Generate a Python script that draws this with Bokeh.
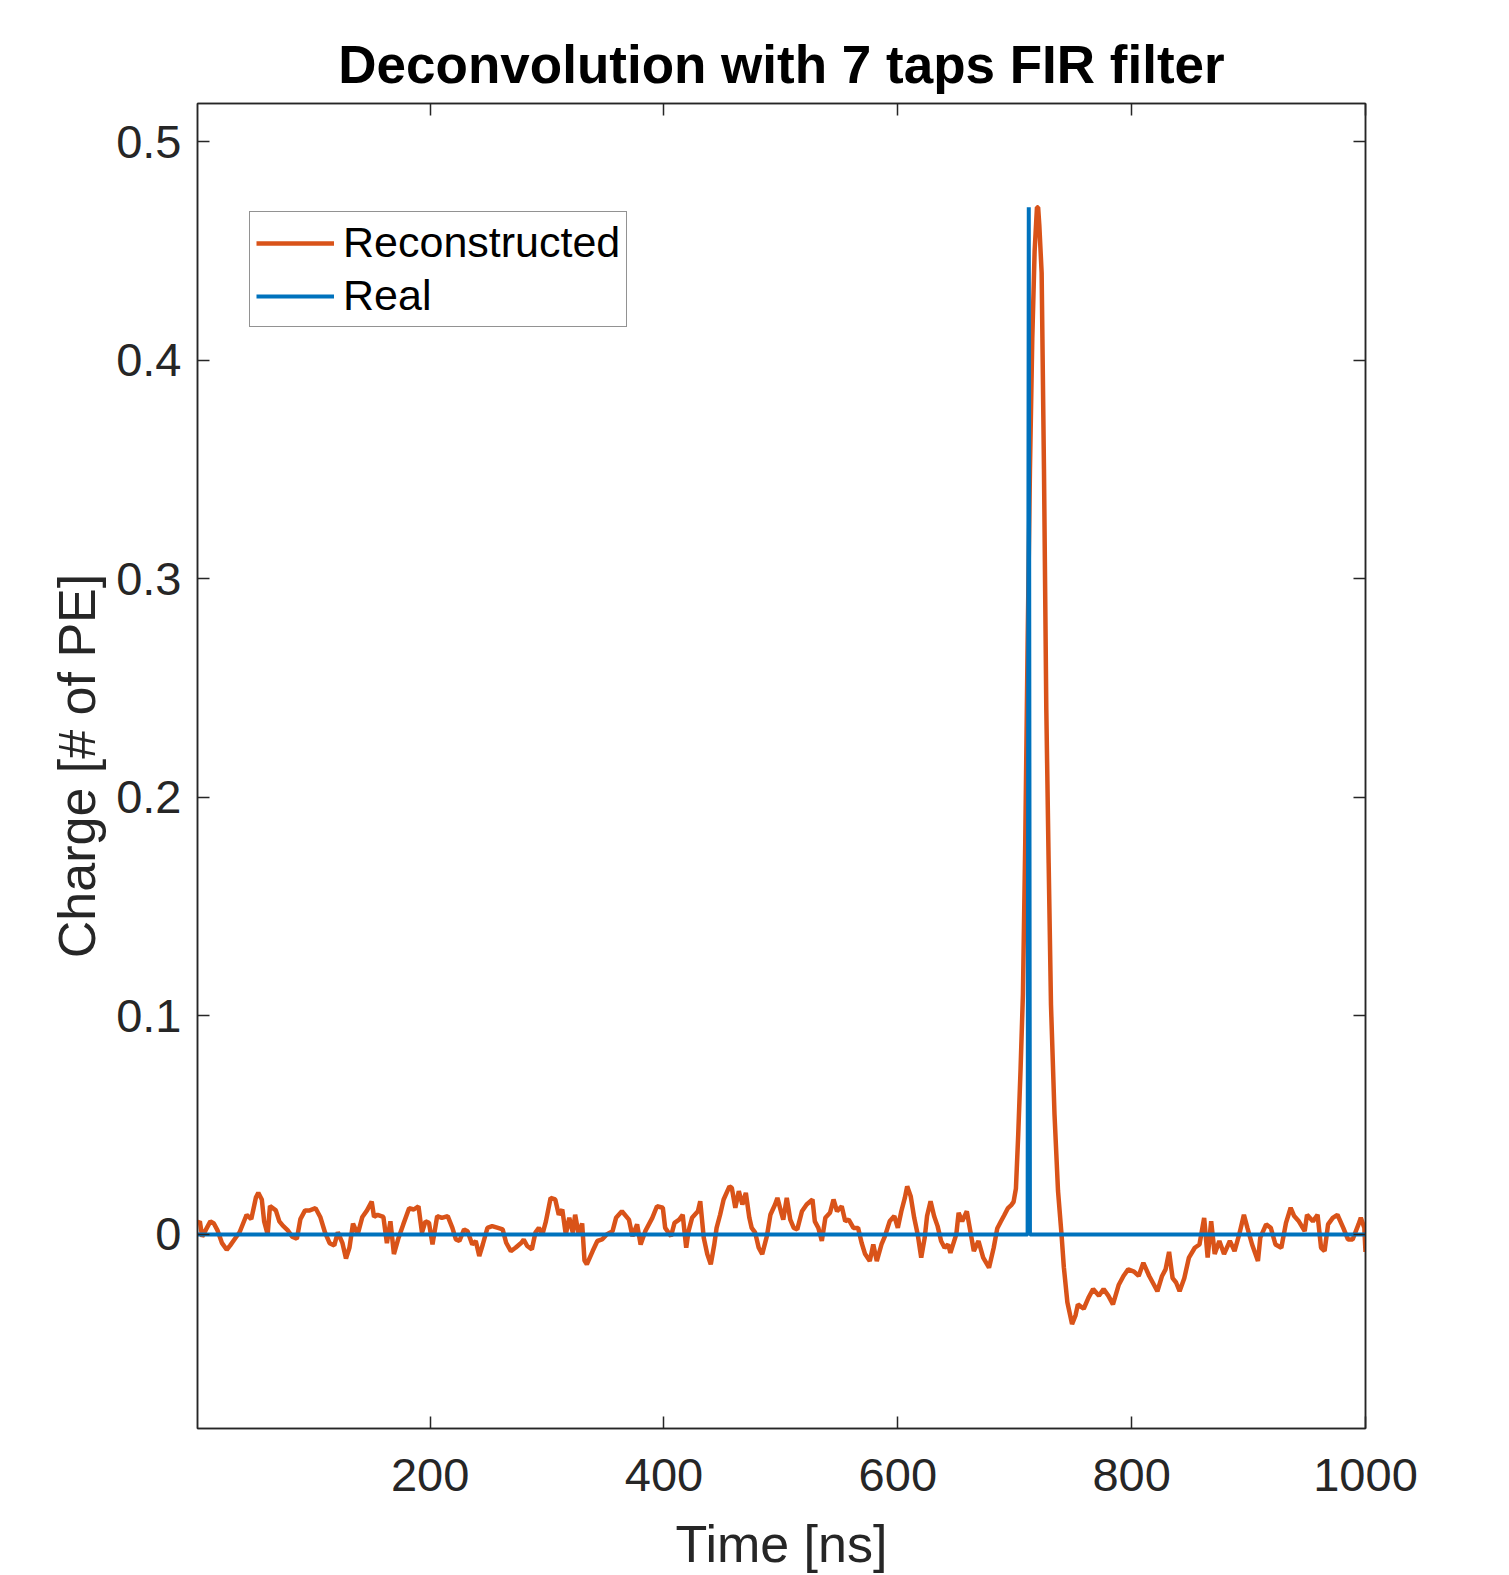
from bokeh.plotting import figure
from bokeh.models import Range1d, FixedTicker, LinearAxis, Legend, LegendItem, Title
from bokeh.embed import file_html
from bokeh.resources import INLINE

# ---- data ----
recon_t = [1, 3, 5, 8, 12, 15, 18, 22, 26, 29, 33, 37, 40, 43, 47, 51, 53, 56, 58, 61, 63, 68, 71, 74, 78,
           82, 86, 89, 93, 97, 102, 106, 110, 114, 118, 121, 125, 128, 131, 134, 138, 142, 146, 150, 152,
           155, 160, 163, 166, 169, 173, 177, 182, 186, 190, 193, 196, 199, 202, 206, 210, 215, 219, 222,
           225, 229, 232, 236, 239, 242, 245, 249, 253, 258, 262, 265, 269, 273, 278, 280, 283, 287, 290,
           293, 296, 299, 303, 307, 310, 313, 316, 319, 322, 324, 327, 330, 332, 334, 339, 343, 347, 351,
           356, 359, 364, 370, 373, 377, 380, 384, 390, 394, 399, 401, 406, 409, 413, 416, 419, 421, 424,
           429, 431, 434, 437, 440, 443, 445, 448, 451, 456, 458, 461, 464, 467, 470, 473, 475, 478, 481,
           484, 488, 491, 495, 497, 500, 502, 505, 508, 511, 514, 518, 522, 527, 529, 532, 535, 538, 542,
           545, 548, 552, 555, 558, 562, 566, 569, 572, 576, 579, 582, 586, 589, 593, 597, 600, 603, 606,
           608, 611, 614, 617, 620, 623, 625, 628, 631, 634, 637, 640, 643, 645, 650, 652, 655, 659, 662,
           665, 669, 673, 678, 682, 685, 688, 691, 694, 697, 699, 701, 703, 705, 707, 709, 711, 713, 715,
           717, 719, 720, 721, 723, 725, 727, 729, 731, 734, 737, 740, 742, 745, 749, 752, 754, 759, 763,
           767, 772, 776, 780, 784, 789, 793, 797, 802, 806, 810, 815, 818, 822, 826, 829, 832, 835, 838,
           841, 845, 849, 854, 858, 862, 865, 868, 871, 875, 879, 884, 888, 892, 896, 899, 903, 908, 910,
           915, 919, 923, 928, 932, 936, 939, 943, 948, 950, 955, 959, 962, 965, 968, 972, 976, 981, 985,
           989, 994, 996, 999, 1000]
recon_v = [0.005, 0.006, -0.001, 0.002, 0.006, 0.005, 0.002, -0.004, -0.007, -0.005, -0.002, 0.001, 0.005,
           0.009, 0.007, 0.017, 0.019, 0.016, 0.006, 0.000, 0.013, 0.011, 0.006, 0.004, 0.002,
           -0.001, -0.002, 0.007, 0.011, 0.011, 0.012, 0.008, 0.001, -0.004, -0.005, 0.001, -0.004, -0.011,
           -0.006, 0.005, 0.000, 0.008, 0.011, 0.015, 0.008,
           0.009, 0.008, -0.004, 0.006, -0.009, -0.0015, 0.0046, 0.012, 0.0114, 0.0129, 0.0008, 0.006, 0.0053,
           -0.0046, 0.0084, 0.0076, 0.0084, 0.003, -0.0023,
           -0.003, 0.0023, 0.0015, -0.0046, -0.003, -0.0099, -0.0046, 0.003, 0.0038, 0.003, 0.0023, -0.0038,
           -0.0076, -0.0061, -0.0038, -0.0023, -0.0053, -0.0068, 0.0008,
           0.003, 0.000, 0.006, 0.0167, 0.016, 0.009, 0.0114, 0.000, 0.0076, 0.0008, 0.009, 0.000, 0.005,
           -0.012, -0.0137, -0.0076, -0.003, -0.0023, 0.000,
           0.0015, 0.0076, 0.0106, 0.0068, -0.0008, 0.0046, -0.0046, 0.0015, 0.0076, 0.0129, 0.0122, 0.003,
           -0.0008, 0.0053, 0.0068, 0.009, -0.0061, 0.0015, 0.0076,
           0.0106, 0.0152, -0.0015, -0.009, -0.0137, -0.0046, 0.003, 0.009, 0.016, 0.022, 0.0213, 0.0122,
           0.0198, 0.0137, 0.019, 0.0076, 0.003, 0.0008, -0.0061,
           -0.009, -0.0008, 0.009, 0.0137, 0.0167, 0.0106, 0.0068, 0.0167, 0.0068, 0.003, 0.0023, 0.0106,
           0.0137, 0.016, 0.006, 0.003, -0.003, 0.0076, 0.0099,
           0.016, 0.0106, 0.0129, 0.006, 0.0068, 0.003, 0.003, -0.0038, -0.009, -0.0122, -0.0046, -0.0122,
           -0.0046, -0.0008, 0.006, 0.0084, 0.003, 0.0106, 0.0167,
           0.022, 0.0175, 0.0076, 0.000, -0.0106, -0.0015, 0.0084, 0.0152, 0.0084, 0.0038, -0.003, -0.0061,
           -0.0046, -0.0084, 0.000, 0.0099, 0.006, 0.0106, 0.0015,
           -0.0076, -0.003, -0.0106, -0.0152, -0.0061, 0.0027, 0.0058, 0.0088, 0.0119, 0.0134, 0.0149,
           0.021, 0.046, 0.076, 0.11, 0.18, 0.27, 0.35, 0.41,
           0.45, 0.47, 0.47, 0.462, 0.44, 0.35, 0.24, 0.17, 0.105, 0.055, 0.02, 0.000, -0.015, -0.031, -0.041,
           -0.037, -0.032, -0.034, -0.029,
           -0.025, -0.028, -0.025, -0.028, -0.032, -0.023, -0.019, -0.016, -0.017, -0.019, -0.013, -0.019,
           -0.022, -0.026, -0.019, -0.016, -0.008, -0.020, -0.022,
           -0.026, -0.020, -0.0106, -0.0061, -0.0046, 0.0076, -0.0106, 0.006, -0.009, -0.003, -0.009, -0.003,
           -0.0076, 0.000, 0.009, 0.003, -0.0046, -0.0122, -0.0015,
           0.0046, 0.003, -0.0046, -0.0061, 0.0053, 0.0122, 0.0084, 0.006, 0.0015, 0.009, 0.006, 0.009,
           -0.0061, -0.0076, 0.0046, 0.0076, 0.009, 0.003, -0.0023,
           -0.0023, 0.0046, 0.0076, 0.003, -0.008]

real_t = [1, 711, 712, 713, 1000]
real_v = [0.0, 0.0, 0.47, 0.0, 0.0]

x_ticks = [200, 400, 600, 800, 1000]
y_ticks = [0, 0.1, 0.2, 0.3, 0.4, 0.5]
y_tick_labels = ["0", "0.1", "0.2", "0.3", "0.4", "0.5"]

ORANGE = "#D95319"
BLUE = "#0072BD"
AX = "#262626"
FONT = "Liberation Sans"

p = figure(width=1501, height=1575,
           x_range=Range1d(1, 1000), y_range=Range1d(-0.0888, 0.5175),
           output_backend="svg", toolbar_location=None,
           min_border_left=197, min_border_right=136, min_border_top=103, min_border_bottom=147)
p.background_fill_color = "white"
p.border_fill_color = "white"
p.xgrid.visible = False
p.ygrid.visible = False
p.outline_line_color = AX
p.outline_line_width = 1.5

p.title = Title(text="Deconvolution with 7 taps FIR filter", align="center",
                text_font=FONT, text_font_size="53px", text_font_style="bold",
                text_color="black", standoff=19)

r_rec = p.line(recon_t, recon_v, line_color=ORANGE, line_width=4.5)
r_real = p.line(real_t, real_v, line_color=BLUE, line_width=4)

def style_axis(ax, ticks, show_labels):
    ax.ticker = FixedTicker(ticks=ticks)
    ax.axis_line_color = AX
    ax.axis_line_width = 1.5
    ax.major_tick_line_color = AX
    ax.major_tick_line_width = 1.5
    ax.major_tick_in = 12
    ax.major_tick_out = 0
    ax.minor_tick_line_color = None
    ax.major_label_text_font = FONT
    ax.major_label_text_color = AX
    if show_labels:
        ax.major_label_text_font_size = "47px"
    else:
        ax.major_label_text_font_size = "0px"
        ax.major_label_standoff = 0

xa = p.xaxis[0]
style_axis(xa, x_ticks, True)
xa.major_label_standoff = 30
xa.axis_label = "Time [ns]"
xa.axis_label_text_font = FONT
xa.axis_label_text_font_size = "52px"
xa.axis_label_text_font_style = "normal"
xa.axis_label_text_color = AX
xa.axis_label_standoff = 21

ya = p.yaxis[0]
style_axis(ya, y_ticks, True)
ya.major_label_overrides = {t: s for t, s in zip(y_ticks, y_tick_labels)}
ya.major_label_standoff = 16
ya.axis_label = "Charge [# of PE]"
ya.axis_label_text_font = FONT
ya.axis_label_text_font_size = "52px"
ya.axis_label_text_font_style = "normal"
ya.axis_label_text_color = AX
ya.axis_label_standoff = 7

top = LinearAxis()
style_axis(top, x_ticks, False)
p.add_layout(top, "above")
right = LinearAxis()
style_axis(right, y_ticks, False)
p.add_layout(right, "right")

legend = Legend(items=[LegendItem(label="Reconstructed", renderers=[r_rec]),
                       LegendItem(label="Real", renderers=[r_real])],
                location=(52, 1101), orientation="vertical",
                label_text_font=FONT, label_text_font_size="43px", label_text_color="black",
                glyph_width=78, glyph_height=48, label_height=48, label_standoff=9,
                spacing=4, padding=6, margin=0,
                border_line_color=AX, border_line_width=1.5,
                background_fill_color="white", background_fill_alpha=1.0)
p.add_layout(legend, "center")

open("out.html", "w").write(file_html(p, INLINE))
